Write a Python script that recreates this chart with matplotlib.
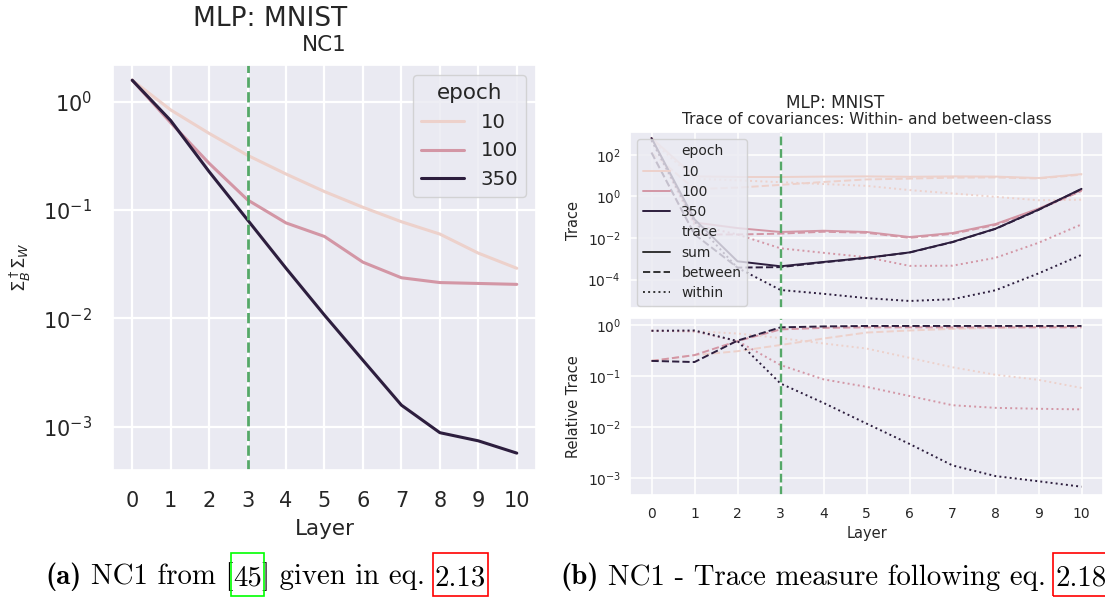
import matplotlib
matplotlib.use("Agg")
import matplotlib.pyplot as plt
import seaborn as sns
from matplotlib.lines import Line2D
from matplotlib.colors import Normalize
from matplotlib.patches import Rectangle

# data
layers = list(range(11))
epochs = [10, 100, 350]
highlight_layer = 3

nc1_ep10 = [1.58, 0.84, 0.51, 0.32, 0.215, 0.148, 0.106, 0.078, 0.060, 0.040, 0.029]
nc1_ep100 = [1.58, 0.64, 0.27, 0.124, 0.076, 0.057, 0.033, 0.0237, 0.0214, 0.021, 0.0206]
nc1_ep350 = [1.58, 0.67, 0.226, 0.081, 0.029, 0.0107, 0.0041, 0.00158, 0.00088, 0.00074, 0.00057]

trace_sum_ep10 = [630, 9.1, 8.5, 8.5, 8.9, 9.1, 8.7, 9.1, 8.9, 7.6, 11.7]
trace_between_ep10 = [126, 2.24, 2.63, 3.55, 4.9, 6.5, 7.1, 7.9, 8.1, 7.2, 11.0]
trace_within_ep10 = [490, 6.9, 5.9, 4.8, 3.9, 3.2, 2.0, 1.38, 0.95, 0.65, 0.69]
trace_sum_ep100 = [630, 0.056, 0.030, 0.0195, 0.0224, 0.0195, 0.0112, 0.0174, 0.047, 0.257, 2.0]
trace_between_ep100 = [126, 0.0148, 0.0148, 0.0162, 0.020, 0.0178, 0.0102, 0.0158, 0.0427, 0.234, 1.82]
trace_within_ep100 = [490, 0.043, 0.0148, 0.0032, 0.00195, 0.0012, 0.00046, 0.00047, 0.00112, 0.0059, 0.045]
trace_sum_ep350 = [630, 0.079, 0.00076, 0.00044, 0.00071, 0.00112, 0.00204, 0.0065, 0.028, 0.23, 2.3]
trace_between_ep350 = [126, 0.0151, 0.00038, 0.0004, 0.00068, 0.0011, 0.002, 0.0063, 0.0275, 0.224, 2.24]
trace_within_ep350 = [490, 0.063, 0.00037, 3.2e-5, 2.1e-5, 1.3e-5, 9.5e-6, 1.15e-5, 3.1e-5, 2.0e-4, 1.55e-3]

rel_between_ep10 = [0.20, 0.26, 0.31, 0.41, 0.55, 0.72, 0.79, 0.85, 0.89, 0.93, 0.93]
rel_within_ep10 = [0.78, 0.76, 0.69, 0.56, 0.44, 0.35, 0.23, 0.15, 0.107, 0.085, 0.059]
rel_between_ep100 = [0.20, 0.26, 0.49, 0.83, 0.89, 0.91, 0.91, 0.91, 0.91, 0.91, 0.91]
rel_within_ep100 = [0.78, 0.76, 0.49, 0.166, 0.087, 0.062, 0.041, 0.027, 0.024, 0.023, 0.0224]
rel_between_ep350 = [0.20, 0.19, 0.50, 0.91, 0.95, 0.97, 0.97, 0.97, 0.97, 0.97, 0.97]
rel_within_ep350 = [0.78, 0.79, 0.49, 0.072, 0.030, 0.0118, 0.0047, 0.00178, 0.0011, 0.00087, 0.00068]

nc1 = dict(zip(epochs, [nc1_ep10, nc1_ep100, nc1_ep350]))
trace_sum = dict(zip(epochs, [trace_sum_ep10, trace_sum_ep100, trace_sum_ep350]))
trace_between = dict(zip(epochs, [trace_between_ep10, trace_between_ep100, trace_between_ep350]))
trace_within = dict(zip(epochs, [trace_within_ep10, trace_within_ep100, trace_within_ep350]))
rel_between = dict(zip(epochs, [rel_between_ep10, rel_between_ep100, rel_between_ep350]))
rel_within = dict(zip(epochs, [rel_within_ep10, rel_within_ep100, rel_within_ep350]))

sns.set_theme(style="darkgrid")
plt.rcParams['font.family'] = ['DejaVu Sans']

cmap = sns.cubehelix_palette(as_cmap=True)
norm = Normalize(min(epochs), max(epochs))
colors = {e: cmap(norm(e)) for e in epochs}
green = '#55a868'
txt = '.15'

W, H = 1105, 599
fig = plt.figure(figsize=(W / 100, H / 100), dpi=100)


def px_axes(x0, y0, x1, y1):
    return fig.add_axes([x0 / W, 1 - y1 / H, (x1 - x0) / W, (y1 - y0) / H])


# ---- (a) NC1 ----
ax = px_axes(113, 65, 536, 470)
for e in epochs:
    ax.plot(layers, nc1[e], color=colors[e], lw=2.2, label=str(e))
ax.axvline(highlight_layer, color=green, ls='--', lw=2)
ax.set_yscale('log')
ax.set_xlim(-0.5, 10.5)
ax.set_ylim(10 ** -3.40, 10 ** 0.339)
ax.set_xticks(layers)
ax.minorticks_off()
ax.tick_params(labelsize=15, length=0, pad=15)
ax.grid(lw=1.6)
ax.set_title('NC1', fontsize=15.5, pad=10.3, color=txt)
ax.set_xlabel('Layer', fontsize=15.5)
ax.xaxis.set_label_coords(0.5, -0.12)
ax.set_ylabel(r'$\Sigma_B^\dagger\Sigma_W$', fontsize=13)
ax.yaxis.set_label_coords(-0.189, 0.5)
ax.legend(title='epoch', fontsize=14.2, title_fontsize=15.5, handlelength=2.2,
          handletextpad=0.84, loc='upper right')
fig.text(270 / W, 1 - 26 / H, 'MLP: MNIST', fontsize=19, ha='center', va='baseline', color=txt)

# ---- (b) trace ----
styles = [('-', 'sum'), ('--', 'between'), (':', 'within')]
ax_t = px_axes(630, 132, 1103, 308)
ax_b = px_axes(630, 318, 1103, 495)
for e in epochs:
    for (ls, _), vals in zip(styles, [trace_sum[e], trace_between[e], trace_within[e]]):
        ax_t.plot(layers, vals, color=colors[e], ls=ls, lw=1.4)
    ax_b.plot(layers, rel_between[e], color=colors[e], ls='--', lw=1.4)
    ax_b.plot(layers, rel_within[e], color=colors[e], ls=':', lw=1.4)

for a in (ax_t, ax_b):
    a.axvline(highlight_layer, color=green, ls='--', lw=1.7)
    a.set_yscale('log')
    a.set_xlim(-0.5, 10.5)
    a.set_xticks(layers)
    a.minorticks_off()
    a.grid(lw=1.1)
    a.tick_params(axis='y', labelsize=10, length=0, pad=6.5)
    a.tick_params(axis='x', labelsize=10, length=0, pad=9)

ax_t.set_ylim(10 ** -5.36, 10 ** 3.09)
ax_t.set_yticks([1e-4, 1e-2, 1e0, 1e2])
ax_t.tick_params(axis='x', labelbottom=False)
ax_t.set_ylabel('Trace', fontsize=10.5)
ax_t.yaxis.set_label_coords(-0.104, 0.5)
ax_t.set_title('Trace of covariances: Within- and between-class', fontsize=11, pad=5.8, color=txt)

ax_b.set_ylim(10 ** -3.33, 10 ** 0.143)
ax_b.set_yticks([1e-3, 1e-2, 1e-1, 1e0])
ax_b.set_ylabel('Relative Trace', fontsize=10.5)
ax_b.yaxis.set_label_coords(-0.104, 0.5)
ax_b.set_xlabel('Layer', fontsize=10.5)
ax_b.xaxis.set_label_coords(0.5, -0.177)

handles = [Line2D([], [], ls='none', label='epoch')]
for e in epochs:
    handles.append(Line2D([], [], color=colors[e], lw=1.4, label=str(e)))
handles.append(Line2D([], [], ls='none', label='trace'))
for ls, name in styles:
    handles.append(Line2D([], [], color='.2', lw=1.4, ls=ls, label=name))
ax_t.legend(handles=handles, loc='upper left', fontsize=10, labelspacing=0.45,
            handlelength=2.0)
fig.text(835 / W, 1 - 108.3 / H, 'MLP: MNIST', fontsize=12.2, ha='center', va='baseline', color=txt)

# ---- captions ----
cap_ax = fig.add_axes([0, 0, 1, 1])
cap_ax.axis('off')
cap_ax.set_zorder(-1)


def caption(x, y, parts):
    prev = None
    boxed = []
    for text, family, gap, box in parts:
        kw = dict(fontsize=20.8, family=family, color='black')
        if prev is None:
            prev = cap_ax.text(x / W, 1 - y / H, text, ha='left', va='baseline', **kw)
        else:
            prev = cap_ax.annotate(text, xy=(1, 0), xycoords=prev, xytext=(gap, 0),
                                   textcoords='offset points', ha='left', va='bottom', **kw)
        if box:
            boxed.append((prev, box))
    return boxed


boxes = caption(45, 584, [('(a)', 'cmb10', 0, None),
                          ('NC1 from [', 'cmr10', 6.9, None),
                          ('45', 'cmr10', 0, '#00ff00'),
                          ('] given in eq.', 'cmr10', 0, None),
                          ('2.13', 'cmr10', 6.9, '#ff0000')])
boxes += caption(560, 584, [('(b)', 'cmb10', 0, None),
                            ('NC1 - Trace measure following eq.', 'cmr10', 6.9, None),
                            ('2.18', 'cmr10', 6.9, '#ff0000')])

fig.canvas.draw()
for t, col in boxes:
    bb = t.get_window_extent()
    fig.add_artist(Rectangle((bb.x0 - 2, bb.y0 - 5), bb.width + 4, bb.height + 17,
                             transform=None, fill=False, ec=col, lw=1.2))

fig.savefig('out.png', dpi=100)
